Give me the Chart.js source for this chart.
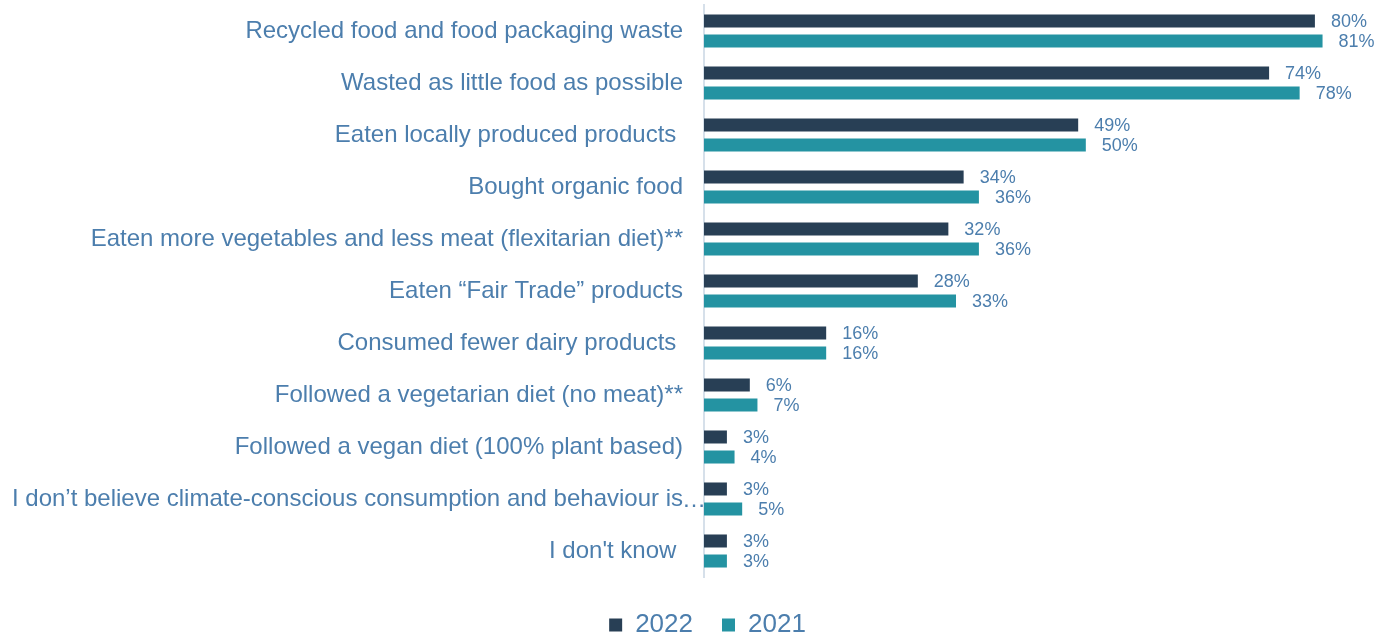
<!DOCTYPE html>
<html>
<head>
<meta charset="utf-8">
<script src="https://cdn.jsdelivr.net/npm/chart.js@4/dist/chart.umd.min.js"></script>
<style>
  html, body { margin: 0; padding: 0; background: #fff; }
  #wrap { width: 1376px; height: 634px; }
</style>
</head>
<body>
<div id="wrap"><canvas id="myChart"></canvas></div>
<script>
const categories = [
    'Recycled food and food packaging waste',
    'Wasted as little food as possible',
    'Eaten locally produced products ',
    'Bought organic food',
    'Eaten more vegetables and less meat (flexitarian diet)**',
    'Eaten \u201cFair Trade\u201d products',
    'Consumed fewer dairy products ',
    'Followed a vegetarian diet (no meat)**',
    'Followed a vegan diet (100% plant based)',
    'I don\u2019t believe climate-conscious consumption and behaviour is\u2026',
    "I don't know "
];
const values2022 = [80, 74, 49, 34, 32, 28, 16, 6, 3, 3, 3];
const values2021 = [81, 78, 50, 36, 36, 33, 16, 7, 4, 5, 3];
const seriesNames = ['2022', '2021'];

const labelColor = '#4C7EAD';
const FONT = '"Liberation Sans", Arial, sans-serif';
Chart.defaults.font.family = FONT;

// value labels next to the bars + the overflowing ellipsis of the cut label
const valueLabels = {
    id: 'valueLabels',
    afterDatasetsDraw(chart) {
        const ctx = chart.ctx;
        ctx.save();
        ctx.font = '18px ' + FONT;
        ctx.fillStyle = labelColor;
        ctx.textAlign = 'left';
        ctx.textBaseline = 'middle';
        chart.data.datasets.forEach((ds, i) => {
            chart.getDatasetMeta(i).data.forEach((bar, j) => {
                ctx.fillText(ds.data[j] + '%', bar.x + 16, bar.y + 1);
            });
        });
        const y = chart.scales.y;
        ctx.font = '24px ' + FONT;
        categories.forEach((c, i) => {
            if (c.endsWith('\u2026')) {
                ctx.fillText('\u2026', y.right - 22, y.getPixelForTick(i) + 1);
            }
        });
        ctx.restore();
    }
};

const chart = new Chart(document.getElementById('myChart'), {
    type: 'bar',
    data: {
        labels: categories,
        datasets: [{
            label: seriesNames[0],
            data: values2022,
            backgroundColor: '#283F55',
            categoryPercentage: 0.77,
            barPercentage: 0.65
        }, {
            label: seriesNames[1],
            data: values2021,
            backgroundColor: '#2493A2',
            categoryPercentage: 0.77,
            barPercentage: 0.65
        }]
    },
    options: {
        indexAxis: 'y',
        responsive: true,
        maintainAspectRatio: false,
        animation: false,
        // negative right padding only widens the legend box, shifting it right like the original
        layout: { padding: { top: 5, right: -39, bottom: -14, left: 0 } },
        scales: {
            x: {
                min: 0,
                max: 88,
                grid: { display: false },
                border: { display: false },
                ticks: { display: false },
                afterFit(scale) { scale.height = 6; }
            },
            y: {
                grid: { display: true, drawOnChartArea: false, drawTicks: true, tickLength: 21, color: 'rgba(0,0,0,0)' },
                border: { display: true, color: '#D6E0EA', width: 2 },
                ticks: {
                    color: labelColor,
                    padding: 0,
                    font: { size: 24, lineHeight: 0.3 },
                    callback(v, i) { return categories[i].replace('\u2026', ''); }
                },
                afterFit(scale) { scale.width = 704; }
            }
        },
        plugins: {
            tooltip: { enabled: false },
            legend: {
                position: 'bottom',
                labels: {
                    color: labelColor,
                    font: { size: 26 },
                    boxWidth: 13,
                    boxHeight: 13,
                    padding: 29
                }
            }
        }
    },
    plugins: [valueLabels]
});
</script>
</body>
</html>
